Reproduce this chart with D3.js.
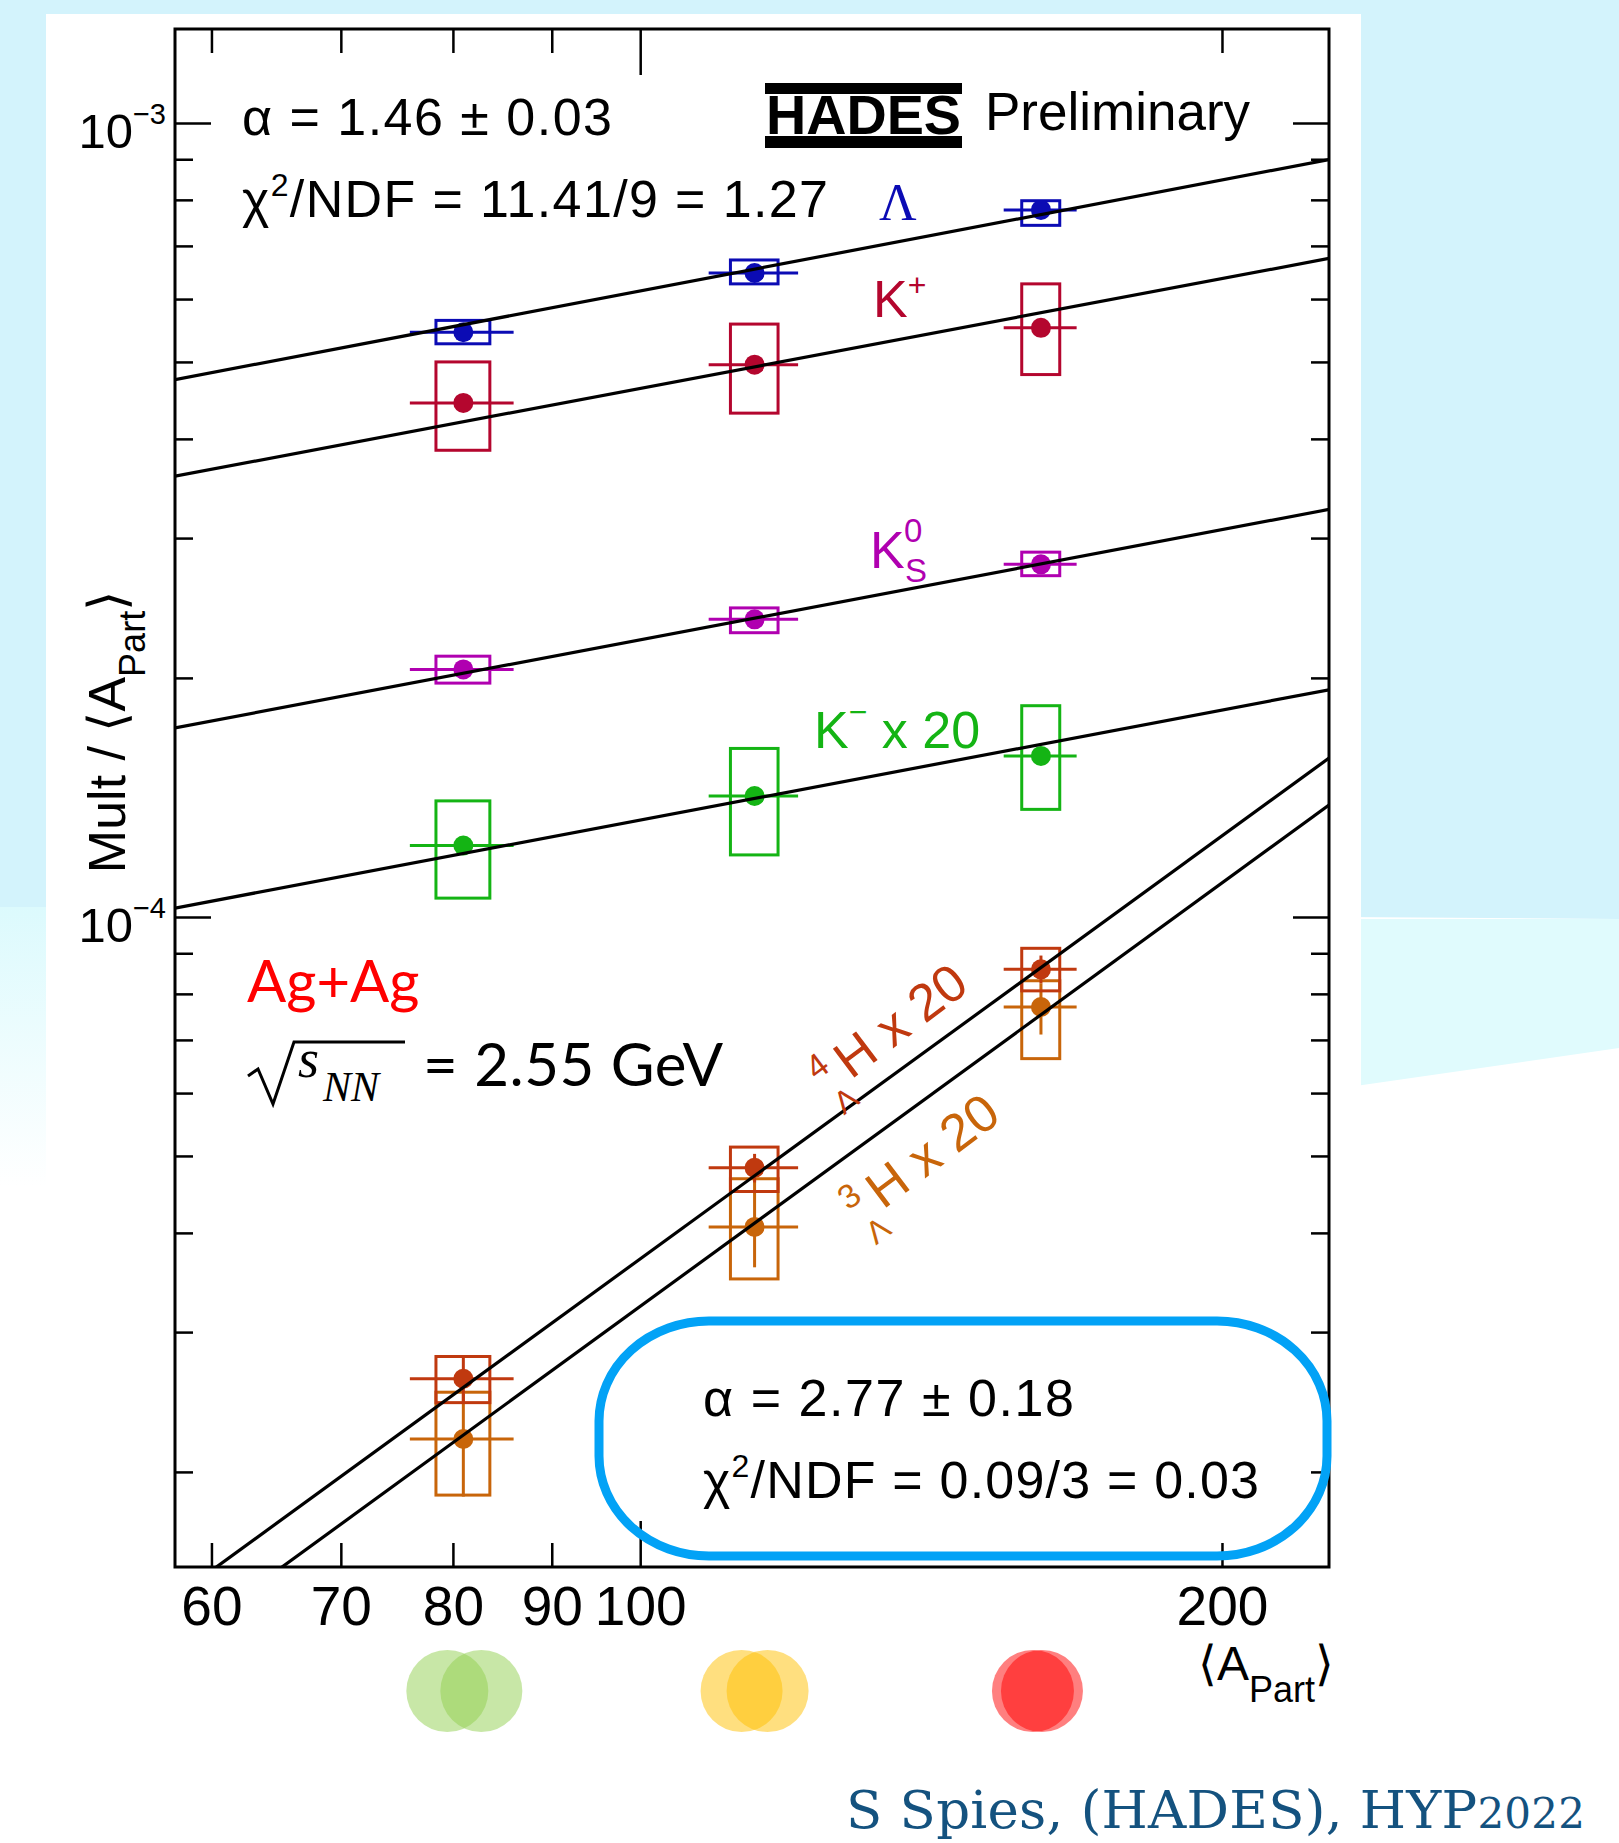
<!DOCTYPE html>
<html><head><meta charset="utf-8">
<script src="https://cdn.jsdelivr.net/npm/d3@7"></script>
<style>
body{margin:0;background:#fff;}
svg{display:block;}
</style>
</head><body>
<svg id="chart" width="1619" height="1843" font-family='"Liberation Sans",Arial,Helvetica,sans-serif'></svg>
<script>
// ---------------- DATA ----------------
const apart = [81.0, 114.6, 161.2];          // <A_part> for the three centrality classes
const apartErr = [5.0, 6.1, 7.0];            // horizontal error bars
const boxHalfWidth = [2.6, 3.25, 3.65];      // half width of systematic boxes (A_part units)

const lambdaMult = [5.45e-4, 6.47e-4, 7.77e-4];
const lambdaSys  = [[5.27e-4, 5.64e-4], [6.27e-4, 6.72e-4], [7.43e-4, 7.98e-4]];
const lambdaStat = [[5.36e-4, 5.54e-4], [6.37e-4, 6.57e-4], [7.65e-4, 7.89e-4]];

const kplusMult = [4.44e-4, 4.96e-4, 5.52e-4];
const kplusSys  = [[3.87e-4, 5.00e-4], [4.31e-4, 5.58e-4], [4.82e-4, 6.27e-4]];
const kplusStat = [[4.37e-4, 4.51e-4], [4.88e-4, 5.04e-4], [5.43e-4, 5.61e-4]];

const k0sMult = [2.05e-4, 2.37e-4, 2.78e-4];
const k0sSys  = [[1.97e-4, 2.13e-4], [2.28e-4, 2.45e-4], [2.69e-4, 2.88e-4]];
const k0sStat = [[2.01e-4, 2.09e-4], [2.33e-4, 2.41e-4], [2.73e-4, 2.83e-4]];

const kminusMult = [1.23e-4, 1.42e-4, 1.595e-4];      // x 20
const kminusSys  = [[1.056e-4, 1.40e-4], [1.197e-4, 1.63e-4], [1.366e-4, 1.845e-4]];
const kminusStat = [[1.21e-4, 1.25e-4], [1.40e-4, 1.44e-4], [1.57e-4, 1.62e-4]];

const h4Mult = [2.62e-5, 4.83e-5, 8.59e-5];           // 4ΛH x 20
const h4Sys  = [[2.445e-5, 2.795e-5], [4.51e-5, 5.13e-5], [8.07e-5, 9.13e-5]];
const h4Stat = [[2.44e-5, 2.795e-5], [4.63e-5, 5.03e-5], [8.25e-5, 8.94e-5]];

const h3Mult = [2.20e-5, 4.07e-5, 7.70e-5];           // 3ΛH x 20
const h3Sys  = [[1.87e-5, 2.52e-5], [3.50e-5, 4.68e-5], [6.63e-5, 8.31e-5]];
const h3Stat = [[1.862e-5, 2.507e-5], [3.62e-5, 4.68e-5], [7.11e-5, 8.25e-5]];

// power-law fits: values at the two ends of the x range
const fitX = [57.45, 227.2];
const lambdaFit = [4.75e-4, 8.99e-4];
const kplusFit  = [3.59e-4, 6.75e-4];
const k0sFit    = [1.73e-4, 3.26e-4];
const kminusFit = [1.026e-4, 1.932e-4];
const h4Fit     = [1.391e-5, 1.585e-4];
const h3Fit     = [1.211e-5, 1.383e-4];

const xTicks = [60, 70, 80, 90, 100, 200];
const xTickLabels = ["60", "70", "80", "90", "100", "200"];
const yMajorTicks = [1e-4, 1e-3];
const yTickLabels = [["10", "\u22124"], ["10", "\u22123"]];
const yMinorTicks = [2e-5, 3e-5, 4e-5, 5e-5, 6e-5, 7e-5, 8e-5, 9e-5,
                     2e-4, 3e-4, 4e-4, 5e-4, 6e-4, 7e-4, 8e-4, 9e-4];

const centralityColors = ["#92D050", "#FFC000", "#FF0000"];
const centralityOffsets = [[-16, 18], [-13, 13], [-8, 1]];

// ---------------- SETUP ----------------
const X0 = 175, X1 = 1329, Y0 = 29, Y1 = 1567;
const svg = d3.select("#chart");
const x = d3.scaleLog().domain([57.45, 227.2]).range([X0, X1]);
const y = d3.scaleLog().domain([1.518e-5, 1.313e-3]).range([Y1, Y0]);
const FONT = '"Liberation Sans",Arial,Helvetica,sans-serif';
const SERIF = '"Liberation Serif","Times New Roman",serif';
const CAL = 'Lato,"Open Sans",sans-serif';

// background (slide)
const defs = svg.append("defs");
const lg = defs.append("linearGradient").attr("id", "leftfade").attr("x1", 0).attr("y1", 0).attr("x2", 0).attr("y2", 1);
lg.append("stop").attr("offset", "0").attr("stop-color", "#dcfafd");
lg.append("stop").attr("offset", "1").attr("stop-color", "#ffffff");
defs.append("clipPath").attr("id", "plotclip").append("rect")
  .attr("x", X0).attr("y", Y0).attr("width", X1 - X0).attr("height", Y1 - Y0);

svg.append("rect").attr("width", 1619).attr("height", 1843).attr("fill", "#ffffff");
svg.append("path").attr("d", "M0,0L1619,0L1619,919L0,907Z").attr("fill", "#d3f3fc");
svg.append("path").attr("d", "M1300,919L1619,919L1619,1048L1300,1094Z").attr("fill", "#e0fbfd");
svg.append("rect").attr("x", 0).attr("y", 907).attr("width", 60).attr("height", 280).attr("fill", "url(#leftfade)");
svg.append("rect").attr("x", 46).attr("y", 14).attr("width", 1315).attr("height", 1829).attr("fill", "#ffffff");

// ---------------- SERIES ----------------
const series = [
  {mult: lambdaMult, sys: lambdaSys, stat: lambdaStat, fit: lambdaFit, color: "#0b0bb4"},
  {mult: kplusMult,  sys: kplusSys,  stat: kplusStat,  fit: kplusFit,  color: "#b4062e"},
  {mult: k0sMult,    sys: k0sSys,    stat: k0sStat,    fit: k0sFit,    color: "#b000b0"},
  {mult: kminusMult, sys: kminusSys, stat: kminusStat, fit: kminusFit, color: "#14b414"},
  {mult: h4Mult,     sys: h4Sys,     stat: h4Stat,     fit: h4Fit,     color: "#c0390f"},
  {mult: h3Mult,     sys: h3Sys,     stat: h3Stat,     fit: h3Fit,     color: "#c8650a"}
];

const plot = svg.append("g").attr("clip-path", "url(#plotclip)");
const drawOrder = [0, 1, 2, 3, 5, 4];
drawOrder.forEach(si => {
  const s = series[si];
  const g = plot.append("g");
  apart.forEach((a, i) => {
    g.append("rect")
      .attr("x", x(a - boxHalfWidth[i])).attr("width", x(a + boxHalfWidth[i]) - x(a - boxHalfWidth[i]))
      .attr("y", y(s.sys[i][1])).attr("height", y(s.sys[i][0]) - y(s.sys[i][1]))
      .attr("fill", "none").attr("stroke", s.color).attr("stroke-width", 3);
    g.append("line")
      .attr("x1", x(a - apartErr[i])).attr("x2", x(a + apartErr[i]))
      .attr("y1", y(s.mult[i])).attr("y2", y(s.mult[i]))
      .attr("stroke", s.color).attr("stroke-width", 3);
    g.append("line")
      .attr("x1", x(a)).attr("x2", x(a))
      .attr("y1", y(s.stat[i][0])).attr("y2", y(s.stat[i][1]))
      .attr("stroke", s.color).attr("stroke-width", 3);
    g.append("circle").attr("cx", x(a)).attr("cy", y(s.mult[i])).attr("r", 10).attr("fill", s.color);
  });
});
series.forEach(s => {
  plot.append("line")
    .attr("x1", x(fitX[0])).attr("y1", y(s.fit[0]))
    .attr("x2", x(fitX[1])).attr("y2", y(s.fit[1]))
    .attr("stroke", "#000").attr("stroke-width", 3.2);
});

// ---------------- AXES ----------------
const gxb = svg.append("g").attr("transform", `translate(0,${Y1})`)
  .call(d3.axisBottom(x).tickValues(xTicks).tickFormat((d, i) => xTickLabels[i]).tickSizeInner(-24).tickSizeOuter(0).tickPadding(19));
gxb.select(".domain").remove();
gxb.attr("font-family", FONT);
gxb.selectAll(".tick line").attr("stroke", "#000").attr("stroke-width", 2.5).attr("y2", d => d === 100 ? -46 : -24);
gxb.selectAll(".tick text").attr("font-size", 55).attr("fill", "#000");

const gxt = svg.append("g").attr("transform", `translate(0,${Y0})`)
  .call(d3.axisTop(x).tickValues(xTicks).tickFormat(() => "").tickSizeInner(-24).tickSizeOuter(0));
gxt.select(".domain").remove();
gxt.selectAll(".tick line").attr("stroke", "#000").attr("stroke-width", 2.5).attr("y2", d => d === 100 ? 46 : 24);

const yAll = yMajorTicks.concat(yMinorTicks);
const gyl = svg.append("g").attr("transform", `translate(${X0},0)`)
  .call(d3.axisLeft(y).tickValues(yAll).tickFormat(() => "").tickSizeInner(-18).tickSizeOuter(0));
gyl.select(".domain").remove();
gyl.selectAll(".tick line").attr("stroke", "#000").attr("stroke-width", 2.5).attr("x2", d => yMajorTicks.includes(d) ? 36 : 18);

const gyr = svg.append("g").attr("transform", `translate(${X1},0)`)
  .call(d3.axisRight(y).tickValues(yAll).tickFormat(() => "").tickSizeInner(-18).tickSizeOuter(0));
gyr.select(".domain").remove();
gyr.selectAll(".tick line").attr("stroke", "#000").attr("stroke-width", 2.5).attr("x2", d => yMajorTicks.includes(d) ? -36 : -18);

svg.append("rect").attr("x", X0).attr("y", Y0).attr("width", X1 - X0).attr("height", Y1 - Y0)
  .attr("fill", "none").attr("stroke", "#000").attr("stroke-width", 3);

// y tick labels
yMajorTicks.forEach((v, i) => {
  const t = svg.append("text").attr("x", 166).attr("y", y(v) + 25).attr("text-anchor", "end").attr("fill", "#000");
  t.append("tspan").attr("font-size", 49).text(yTickLabels[i][0]);
  t.append("tspan").attr("font-size", 29).attr("dy", -24).text(yTickLabels[i][1]);
});

// axis titles
const yt = svg.append("text").attr("transform", "translate(125,732) rotate(-90)").attr("text-anchor", "middle").attr("fill", "#000").attr("font-size", 52);
yt.append("tspan").text("Mult / \u27E8A");
yt.append("tspan").attr("font-size", 36).attr("dy", 20).text("Part");
yt.append("tspan").attr("dy", -20).text("\u27E9");

const xt = svg.append("text").attr("x", 1334).attr("y", 1680).attr("text-anchor", "end").attr("fill", "#000").attr("font-size", 48);
xt.append("tspan").text("\u27E8A");
xt.append("tspan").attr("font-size", 36).attr("dy", 22).text("Part");
xt.append("tspan").attr("dy", -22).text("\u27E9");

// ---------------- TEXTS ----------------
svg.append("text").attr("x", 242).attr("y", 135).attr("font-size", 52).attr("fill", "#000")
  .attr("textLength", 370).attr("lengthAdjust", "spacing").text("\u03B1 = 1.46 \u00B1 0.03");
const chi1 = svg.append("text").attr("x", 242).attr("y", 217).attr("font-size", 52).attr("fill", "#000")
  .attr("textLength", 586).attr("lengthAdjust", "spacing");
chi1.append("tspan").text("\u03C7");
chi1.append("tspan").attr("font-size", 32).attr("dy", -21).text("2");
chi1.append("tspan").attr("dy", 21).text("/NDF = 11.41/9 = 1.27");

// HADES logo
svg.append("rect").attr("x", 765).attr("y", 83).attr("width", 197).attr("height", 11).attr("fill", "#000");
svg.append("rect").attr("x", 765).attr("y", 136).attr("width", 197).attr("height", 12).attr("fill", "#000");
svg.append("text").attr("x", 766).attr("y", 134).attr("font-size", 56).attr("font-weight", "bold")
  .attr("textLength", 195).attr("lengthAdjust", "spacingAndGlyphs").attr("fill", "#000").text("HADES");
svg.append("text").attr("x", 985).attr("y", 130).attr("font-size", 53).attr("fill", "#000").text("Preliminary");

// species labels
svg.append("text").attr("x", 879).attr("y", 220).attr("font-size", 52).attr("fill", series[0].color)
  .attr("font-family", SERIF).text("\u039B");
const kp = svg.append("text").attr("x", 873).attr("y", 317).attr("font-size", 52).attr("fill", series[1].color);
kp.append("tspan").text("K");
kp.append("tspan").attr("font-size", 32).attr("dy", -21).text("+");
svg.append("text").attr("x", 870).attr("y", 568).attr("font-size", 52).attr("fill", series[2].color).text("K");
svg.append("text").attr("x", 904).attr("y", 542).attr("font-size", 33).attr("fill", series[2].color).text("0");
svg.append("text").attr("x", 905).attr("y", 582).attr("font-size", 33).attr("fill", series[2].color).text("S");
const km = svg.append("text").attr("x", 814).attr("y", 748).attr("font-size", 52).attr("fill", series[3].color);
km.append("tspan").text("K");
km.append("tspan").attr("font-size", 32).attr("dy", -25).text("\u2212");
km.append("tspan").attr("dy", 25).text(" x 20");

function hyperLabel(ox, oy, num, color) {
  const g = svg.append("g").attr("transform", `translate(${ox},${oy}) rotate(-37)`).attr("fill", color);
  g.append("text").attr("x", 0).attr("y", 0).attr("font-size", 52).text("H x 20");
  g.append("text").attr("x", -28).attr("y", -20).attr("font-size", 34).text(num);
  g.append("text").attr("x", -27).attr("y", 24).attr("font-size", 32).text("\u039B");
}
hyperLabel(851, 1080, "4", series[4].color);
hyperLabel(883, 1210, "3", series[5].color);

// Ag+Ag
svg.append("text").attr("x", 247).attr("y", 1002).attr("font-size", 58).attr("fill", "#ff0000")
  .attr("font-family", CAL).text("Ag+Ag");
svg.append("path").attr("d", "M248,1076 L258,1069 L273,1104 L294,1042 L405,1042")
  .attr("fill", "none").attr("stroke", "#000").attr("stroke-width", 3);
svg.append("text").attr("x", 298).attr("y", 1077).attr("font-size", 54).attr("font-style", "italic")
  .attr("font-family", SERIF).attr("fill", "#000").text("s");
svg.append("text").attr("x", 323).attr("y", 1101).attr("font-size", 42).attr("font-style", "italic")
  .attr("font-family", SERIF).attr("fill", "#000").text("NN");
svg.append("text").attr("x", 423).attr("y", 1086).attr("font-size", 60).attr("fill", "#000")
  .attr("font-family", CAL).attr("textLength", 300).attr("lengthAdjust", "spacing").text("= 2.55 GeV");

// highlighted box
svg.append("rect").attr("x", 599).attr("y", 1321).attr("width", 728).attr("height", 235)
  .attr("rx", 110).attr("ry", 100).attr("fill", "none").attr("stroke", "#02a2f6").attr("stroke-width", 9);
svg.append("text").attr("x", 703).attr("y", 1416).attr("font-size", 52).attr("fill", "#000")
  .attr("textLength", 371).attr("lengthAdjust", "spacing").text("\u03B1 = 2.77 \u00B1 0.18");
const chi2 = svg.append("text").attr("x", 703).attr("y", 1498).attr("font-size", 52).attr("fill", "#000")
  .attr("textLength", 556).attr("lengthAdjust", "spacing");
chi2.append("tspan").text("\u03C7");
chi2.append("tspan").attr("font-size", 32).attr("dy", -21).text("2");
chi2.append("tspan").attr("dy", 21).text("/NDF = 0.09/3 = 0.03");

// centrality icons
apart.forEach((a, i) => {
  centralityOffsets[i].forEach(off => {
    svg.append("circle").attr("cx", x(a) + off).attr("cy", 1691).attr("r", 41)
      .attr("fill", centralityColors[i]).attr("fill-opacity", 0.5);
  });
});

// credit
const cr = svg.append("text").attr("x", 846).attr("y", 1828).attr("font-size", 53).attr("fill", "#14527f")
  .attr("font-family", '"DejaVu Serif","Liberation Serif",serif')
  .attr("textLength", 739).attr("lengthAdjust", "spacing");
cr.append("tspan").text("S Spies, (HADES), HYP");
cr.append("tspan").attr("font-size", 42).text("2022");
</script>
</body></html>
